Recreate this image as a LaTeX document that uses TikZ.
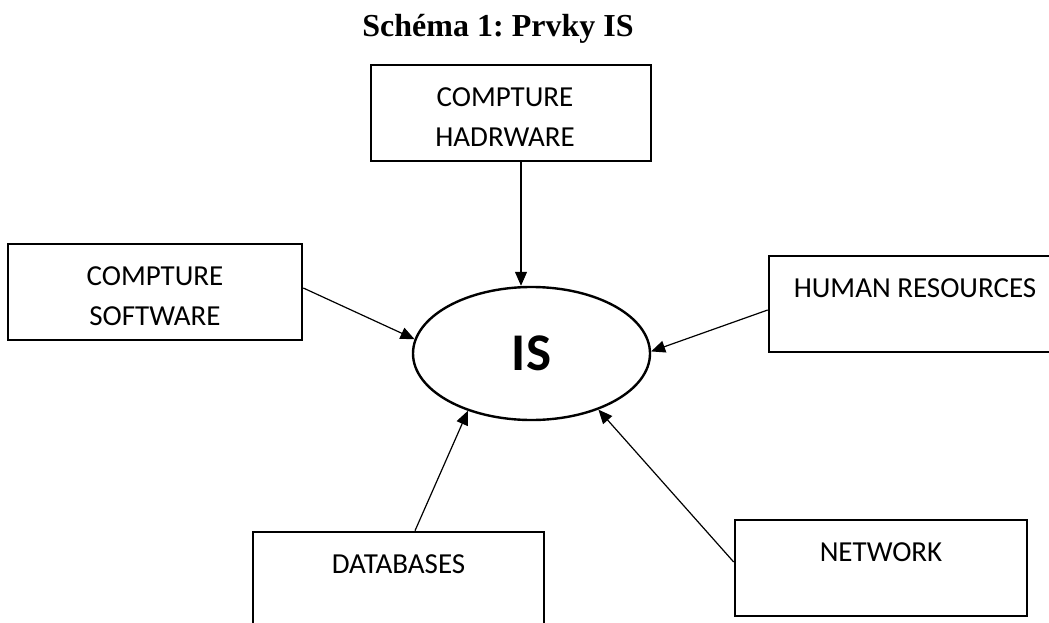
\documentclass[tikz,border=0pt]{standalone}
\usepackage{fontspec}
\setmainfont{Carlito}
\newfontfamily\titlefont{Liberation Serif}
\usetikzlibrary{arrows.meta,shapes.geometric}
\frenchspacing
\begin{document}
\begin{tikzpicture}[x=1pt,y=-1pt,
  box/.style={draw, line width=2.6pt, minimum height=96pt, inner sep=0pt},
  lbl/.style={anchor=north, inner sep=0pt, align=center,
    font=\fontsize{29}{40}\selectfont},
  arr/.style={line width=1.2pt, -{Triangle[length=14pt,width=12pt]}}]
  \clip (0,0) rectangle (1049,623);
  \fill[white] (0,0) rectangle (1049,623);

  % heading
  \node[anchor=base, inner sep=0pt,
    font=\titlefont\bfseries\fontsize{32}{38}\selectfont] (title) at (498,37) {Schéma 1: Prvky IS};

  % central element
  \node[draw, ellipse, line width=2.4pt, minimum width=237pt, minimum height=133pt,
    inner sep=0pt, font=\bfseries\fontsize{53}{60}\selectfont] (is) at (531.5,353.5) {IS};

  % surrounding components
  \node[box, minimum width=280pt] (hw) at (511,113) {};
  \node[lbl] (hwt) at ([xshift=-6pt,yshift=-24pt]hw.north) {COMPTURE\\HADRWARE};

  \node[box, minimum width=294pt] (sw) at (155,292) {};
  \node[lbl] (swt) at ([yshift=-24pt]sw.north) {COMPTURE\\SOFTWARE};

  \node[box, minimum width=292pt] (hr) at (915,304) {};
  \node[lbl] (hrt) at ([yshift=-24pt]hr.north) {HUMAN RESOURCES};

  \node[box, minimum width=292pt] (nw) at (881,568) {};
  \node[lbl] (nwt) at ([yshift=-24pt]nw.north) {NETWORK};

  \node[box, minimum width=291pt] (db) at (398.5,580) {};
  \node[lbl] (dbt) at ([yshift=-24pt]db.north) {DATABASES};

  % connectors into the centre
  \draw[arr] ([xshift=10pt]hw.south) -- ([xshift=10pt]hw.south |- is.north);
  \draw[arr] ([yshift=4pt]sw.east) -- (is.173);
  \draw[arr] ([yshift=-6pt]hr.west) -- (is.1);
  \draw[arr] ([xshift=16.5pt]db.north) -- (is.222);
  \draw[arr] ([yshift=6pt]nw.west) -- (is.320);
\end{tikzpicture}
\end{document}
